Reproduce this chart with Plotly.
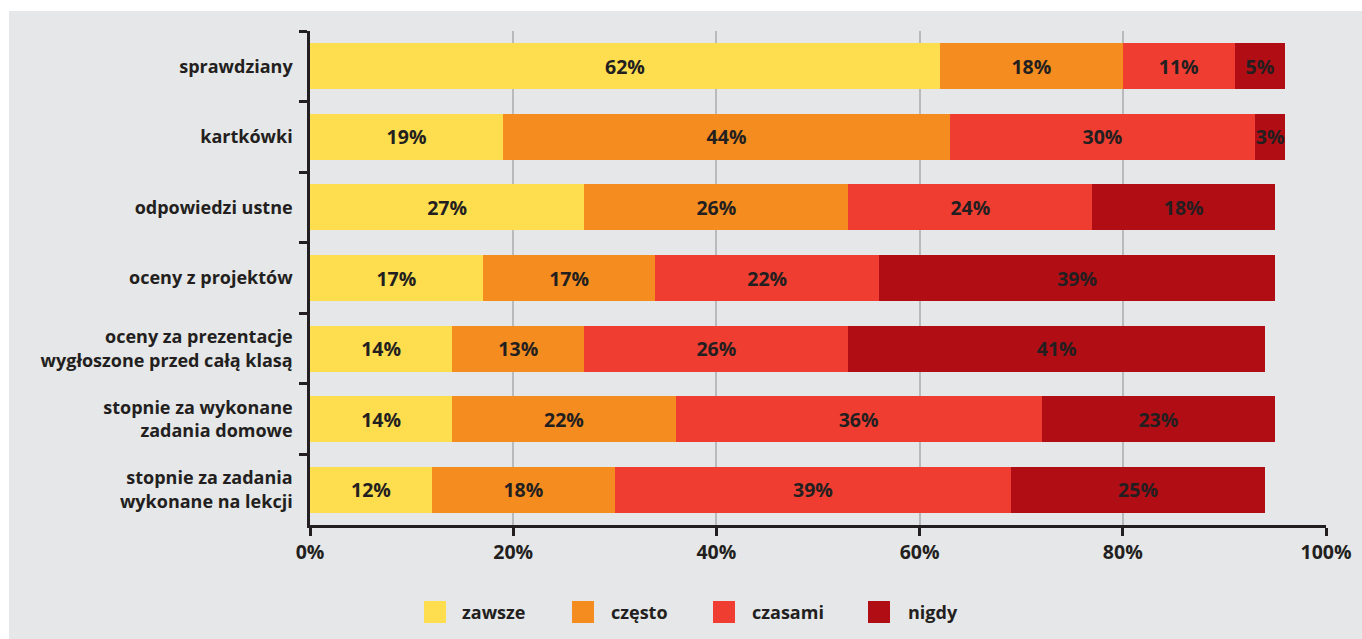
import plotly.graph_objects as go

categories = [
    "sprawdziany",
    "kartkówki",
    "odpowiedzi ustne",
    "oceny z projektów",
    "oceny za prezentacje<br>wygłoszone przed całą klasą",
    "stopnie za wykonane<br>zadania domowe",
    "stopnie za zadania<br>wykonane na lekcji",
]
series_names = ["zawsze", "często", "czasami", "nigdy"]
zawsze = [62, 19, 27, 17, 14, 14, 12]
czesto = [18, 44, 26, 17, 13, 22, 18]
czasami = [11, 30, 24, 22, 26, 36, 39]
nigdy = [5, 3, 18, 39, 41, 23, 25]
x_ticks = [0, 20, 40, 60, 80, 100]
x_tick_labels = ["0%", "20%", "40%", "60%", "80%", "100%"]

colors = ["#fedd4f", "#f58c1f", "#ef3e31", "#b00d15"]
BG = "#e6e7e8"
TXT = "#231f20"
FONT = "Open Sans"

W, H = 1362, 639
ML, MR, MT, MB = 310, 36, 31, 114
PW = W - ML - MR
PH = H - MT - MB

fig = go.Figure()
for name, vals, col in zip(series_names, [zawsze, czesto, czasami, nigdy], colors):
    fig.add_trace(go.Bar(
        y=categories, x=vals, name=name, orientation="h",
        marker=dict(color=col, line=dict(width=0)),
        text=[f"{v}%" for v in vals], textposition="inside",
        insidetextanchor="middle", textangle=0,
        textfont=dict(family=FONT, size=19.5, color=TXT, weight="bold"),
        hoverinfo="skip", showlegend=False, cliponaxis=False,
    ))

def px_to_paper_x(px):
    return (px - ML) / PW

def px_to_paper_y(py):
    return (H - MB - py) / PH

shapes = [
    # white strips around the grey panel
    dict(type="rect", xref="paper", yref="paper", layer="below",
         x0=px_to_paper_x(-5), x1=px_to_paper_x(W + 5),
         y0=px_to_paper_y(11), y1=px_to_paper_y(-5),
         fillcolor="white", line=dict(width=0)),
    dict(type="rect", xref="paper", yref="paper", layer="below",
         x0=px_to_paper_x(-5), x1=px_to_paper_x(9),
         y0=px_to_paper_y(H + 5), y1=px_to_paper_y(-5),
         fillcolor="white", line=dict(width=0)),
]
annotations = []
legend_square_x = [424, 572, 713, 868]
legend_text_x = [460, 609, 750, 906]
legend_cy = 612
sq = 22
for name, col, sx, tx in zip(series_names, colors, legend_square_x, legend_text_x):
    shapes.append(dict(type="rect", xref="paper", yref="paper",
                       x0=px_to_paper_x(sx), x1=px_to_paper_x(sx + sq),
                       y0=px_to_paper_y(legend_cy + sq / 2), y1=px_to_paper_y(legend_cy - sq / 2),
                       fillcolor=col, line=dict(width=0)))
    annotations.append(dict(xref="paper", yref="paper", x=px_to_paper_x(tx),
                            y=px_to_paper_y(legend_cy), xanchor="left", yanchor="middle",
                            text=name, showarrow=False,
                            font=dict(family=FONT, size=18, color=TXT, weight="bold")))

fig.update_layout(
    width=W, height=H,
    margin=dict(l=ML, r=MR, t=MT, b=MB, pad=0, autoexpand=False),
    paper_bgcolor=BG, plot_bgcolor=BG,
    barmode="stack", bargap=0.35,
    uniformtext=dict(minsize=19.5, mode="show"),
    showlegend=False,
    shapes=shapes, annotations=annotations,
    font=dict(family=FONT, size=18, color=TXT),
    xaxis=dict(
        range=[0, 100], tickvals=x_ticks, ticktext=x_tick_labels,
        showgrid=True, gridcolor="#b9babc", gridwidth=1.5,
        zeroline=False, showline=True, linecolor=TXT, linewidth=2.5,
        ticks="outside", ticklen=8, tickwidth=2.5, tickcolor=TXT,
        tickfont=dict(family=FONT, size=19.5, color=TXT, weight="bold"),
        automargin=False, fixedrange=True,
    ),
    yaxis=dict(
        autorange="reversed", showgrid=False, zeroline=False,
        showline=True, linecolor=TXT, linewidth=2.5,
        ticks="outside", tickson="boundaries", ticklen=8, tickwidth=2.5, tickcolor=TXT,
        ticklabelstandoff=11,
        tickfont=dict(family=FONT, size=18, color=TXT, weight="bold"),
        automargin=False, fixedrange=True,
    ),
)

fig.write_html(
    "out.html",
    config={"displayModeBar": False},
    post_script="document.body.style.margin='0';document.body.style.overflow='hidden';",
)
